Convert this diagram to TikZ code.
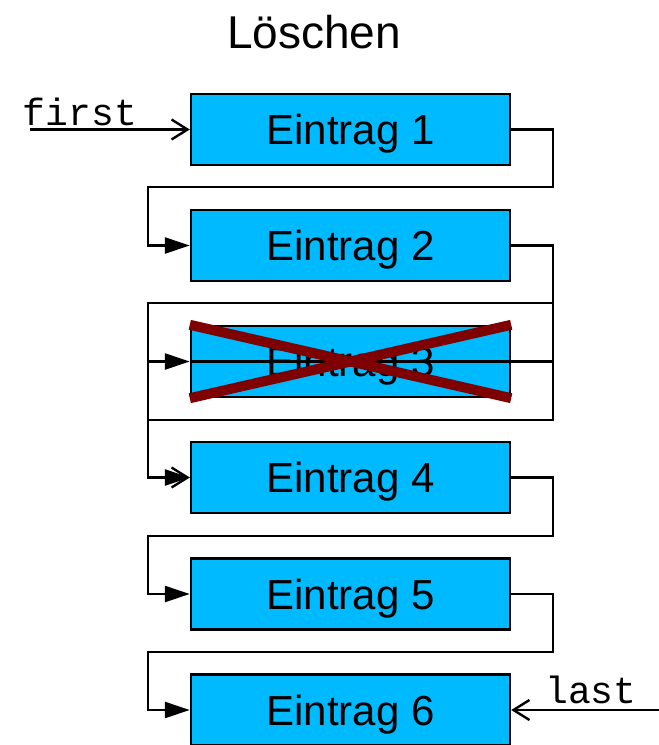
\documentclass[tikz,border=0pt]{standalone}
\usepackage{fontspec}
\setmainfont{Liberation Sans}
\newfontfamily\monofam{Liberation Mono}
\usetikzlibrary{arrows.meta}
\definecolor{boxblue}{HTML}{00BAFF}
\definecolor{crossred}{HTML}{7F0000}
\tikzset{
  entry/.style={draw, line width=2.4pt, fill=boxblue, minimum width=319pt, minimum height=71pt, inner sep=0pt, text depth=0pt, font=\fontsize{42}{42}\selectfont},
  conn/.style={line width=2.4pt},
  fillarrow/.style={conn, -{Triangle[length=25pt,width=16pt]}},
  openarrow/.style={conn, -{Straight Barb[length=16pt,width=20pt,line width=2.4pt]}},
  crossline/.style={line width=10pt, crossred},
  monolabel/.style={font=\monofam\fontsize{38}{38}\selectfont, inner sep=0pt},
}
\begin{document}
\begin{tikzpicture}[x=1pt,y=-1pt]
\useasboundingbox (0,0) rectangle (659,745);
\node[font=\fontsize{46}{46}\selectfont] (title) at (314,32) {Löschen};

\node[entry] (b1) at (350.5,129.5) {Eintrag 1};
\node[entry] (b2) at (350.5,245.5) {Eintrag 2};
\node[entry] (b3) at (350.5,361.5) {Eintrag 3};
\node[entry] (b4) at (350.5,477.5) {Eintrag 4};
\node[entry] (b5) at (350.5,594) {Eintrag 5};
\node[entry] (b6) at (350.5,710) {Eintrag 6};

\coordinate (r1) at (553,187);  \coordinate (l1) at (148,187);
\coordinate (r2) at (553,303);  \coordinate (l2) at (148,303);
\coordinate (r3) at (553,420);  \coordinate (l3) at (148,420);
\coordinate (r4) at (553,536);  \coordinate (l4) at (148,536);
\coordinate (r5) at (553,652);  \coordinate (l5) at (148,652);

\draw[fillarrow] (b1.east) -| (r1) -- (l1) |- (b2.west);
\draw[fillarrow] (b2.east) -| (r2) -- (l2) |- (b3.west);
\draw[openarrow] (l2) |- (b4.west);
\draw[conn] (r2) -- (r3);
\draw[fillarrow] (b3.west) -- (b3.east) -| (r3) -- (l3) |- (b4.west);
\draw[fillarrow] (b4.east) -| (r4) -- (l4) |- (b5.west);
\draw[fillarrow] (b5.east) -| (r5) -- (l5) |- (b6.west);

\draw[crossline] (b3.north west) -- (b3.south east);
\draw[crossline] (b3.south west) -- (b3.north east);

\node[monolabel] (first) at (80,112) {first};
\coordinate (fs) at (30,129.5);
\draw[openarrow] (fs) -- (b1.west);

\node[monolabel] (last) at (591,690) {last};
\coordinate (ls) at (659,710);
\draw[openarrow] (ls) -- (b6.east);
\end{tikzpicture}
\end{document}
